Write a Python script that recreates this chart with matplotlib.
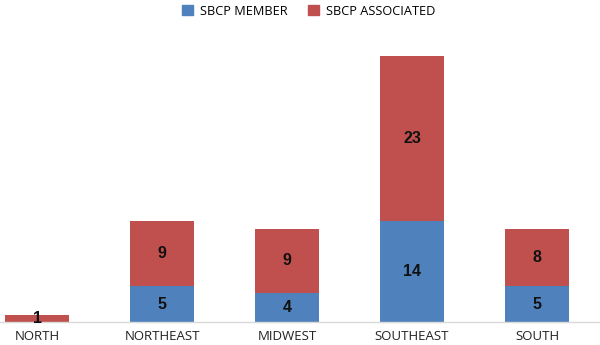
"""Stacked bar chart: SBCP members and associated by region."""

import matplotlib

matplotlib.use("Agg")
import matplotlib.pyplot as plt
from matplotlib.patches import Patch

regions = ["NORTH", "NORTHEAST", "MIDWEST", "SOUTHEAST", "SOUTH"]
member = [0, 5, 4, 14, 5]
associated = [1, 9, 9, 23, 8]

BLUE = "#4F81BD"
RED = "#C0504D"
LABEL_FONT = ["Open Sans", "DejaVu Sans"]

fig = plt.figure(figsize=(6.0, 3.45), dpi=100)
ax = fig.add_axes([0.0, 0.0667, 1.0, 0.8336])

x = list(range(len(regions)))
width = 0.51
bars_m = ax.bar(x, member, width, color=BLUE, zorder=2)
bars_a = ax.bar(x, associated, width, bottom=member, color=RED, zorder=2)

for rect, val in zip(bars_m, member):
    if val:
        ax.text(rect.get_x() + rect.get_width() / 2, rect.get_y() + rect.get_height() / 2,
                str(val), ha="center", va="center", fontsize=11.5, fontweight="bold",
                family="Liberation Sans", color="#111111", zorder=3)
for rect, val in zip(bars_a, associated):
    if val:
        ax.text(rect.get_x() + rect.get_width() / 2, rect.get_y() + rect.get_height() / 2,
                str(val), ha="center", va="center", fontsize=11.5, fontweight="bold",
                family="Liberation Sans", color="#111111", zorder=3)

ax.set_xlim(-0.296, 4.504)
ax.set_ylim(0, 40)
for side in ("top", "right", "left"):
    ax.spines[side].set_visible(False)
ax.spines["bottom"].set_color("#D9D9D9")
ax.spines["bottom"].set_linewidth(1.0)
ax.set_yticks([])
ax.set_xticks(x)
ax.set_xticklabels(regions, family=LABEL_FONT, fontsize=9.5, color="#222222")
ax.tick_params(axis="x", length=0, pad=6)

handles = [Patch(color=BLUE, label="SBCP MEMBER"), Patch(color=RED, label="SBCP ASSOCIATED")]
fig.legend(handles=handles, loc="upper center", bbox_to_anchor=(0.515, 1.02), ncol=2,
           frameon=False, prop={"family": LABEL_FONT, "size": 9.2},
           handlelength=0.8, handleheight=0.8, handletextpad=0.6, columnspacing=1.6)

fig.savefig("out.png", dpi=100, facecolor="white")
